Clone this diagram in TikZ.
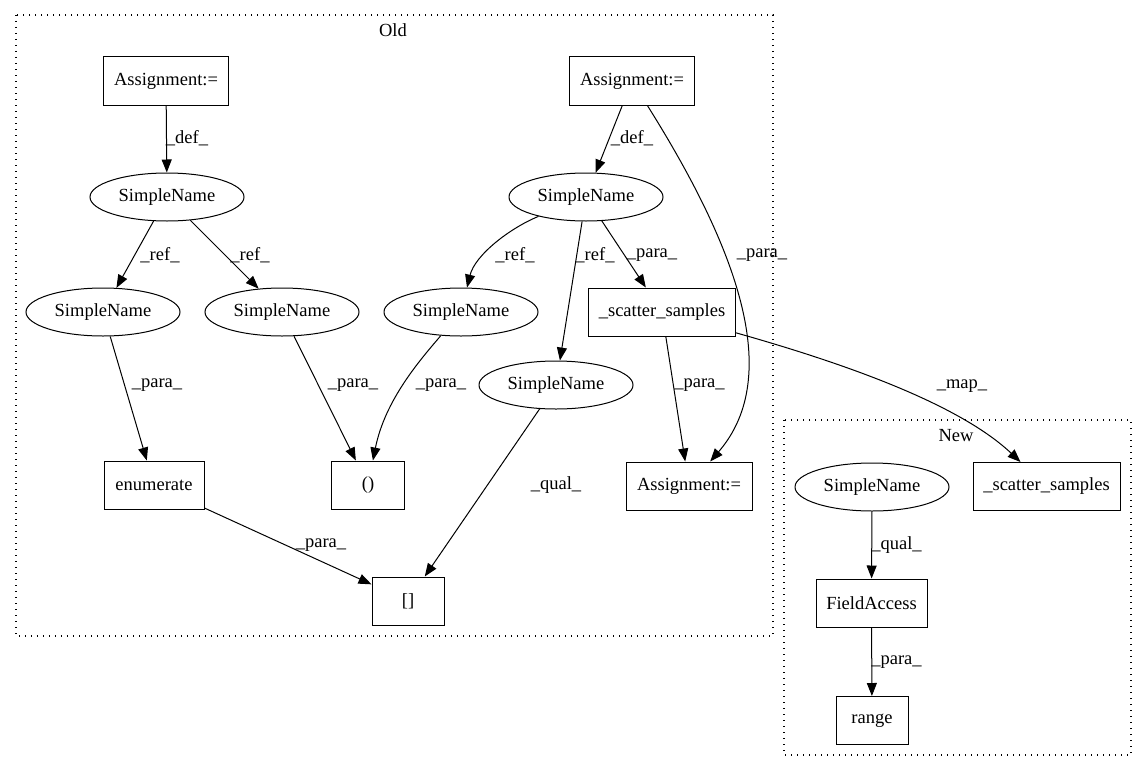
\documentclass[tikz,border=0pt]{standalone}
\usepackage{fontspec}
\setmainfont{Liberation Serif}
\usetikzlibrary{shapes.geometric,arrows.meta}
\begin{document}
\begin{tikzpicture}[x=1pt,y=-1pt,
  every node/.style={font=\fontsize{18.5}{22}\selectfont},
  box/.style={draw, rectangle, line width=1pt, minimum height=48pt, inner sep=0pt},
  ell/.style={draw, ellipse, line width=1pt, minimum width=154pt, minimum height=48pt, inner sep=0pt},
  edge/.style={draw, line width=1pt, -{Triangle[length=13pt,width=10pt]}},
  lab/.style={inner sep=0pt},
  cluster/.style={draw, line width=1.2pt, dash pattern=on 1.4pt off 4.6pt}]
\useasboundingbox (0,0) rectangle (1147,768);

% clusters
\draw[cluster] (16,15) rectangle (773,636);
\node[lab] (oldlab) at (393,30) {Old};
\draw[cluster] (784,420) rectangle (1131,755);
\node[lab] (newlab) at (956,436) {New};

% Old nodes
\node[box, minimum width=125pt] (A1) at (166,81) {Assignment:=};
\node[box, minimum width=125pt] (A2) at (632,81) {Assignment:=};
\node[ell] (S1) at (167,197) {SimpleName};
\node[ell] (S2) at (586,197) {SimpleName};
\node[ell] (S3) at (103,312) {SimpleName};
\node[ell] (S4) at (282,312) {SimpleName};
\node[ell] (S5) at (461,312) {SimpleName};
\node[box, minimum width=147pt] (SC) at (662,312) {\_scatter\_samples};
\node[ell] (S6) at (556,385) {SimpleName};
\node[box, minimum width=100pt] (EN) at (154,485) {enumerate};
\node[box, minimum width=73pt] (PA) at (368,485) {()};
\node[box, minimum width=126pt] (A3) at (689,486) {Assignment:=};
\node[box, minimum width=72pt] (BR) at (408,601) {[]};

% New nodes
\node[ell] (S7) at (872,487) {SimpleName};
\node[box, minimum width=147pt] (SC2) at (1046.5,486.5) {\_scatter\_samples};
\node[box, minimum width=111pt] (FA) at (871.5,603) {FieldAccess};
\node[box, minimum width=72pt] (RG) at (872,720.5) {range};

% edges
\draw[edge] (A1) -- (S1);
\draw[edge] (A2) -- (S2);
\draw[edge] (S1) -- (S3);
\draw[edge] (S1) -- (S4);
\draw[edge] (S2) .. controls (510,228) and (475,255) .. (S5);
\draw[edge] (S2) -- (S6);
\draw[edge] (S2) -- (SC);
\draw[edge] (A2) .. controls (735,245) and (785,375) .. (A3);
\draw[edge] (S3) -- (EN);
\draw[edge] (S4) -- (PA);
\draw[edge] (S5) .. controls (420,360) and (385,400) .. (PA);
\draw[edge] (SC) -- (A3);
\draw[edge] (S6) -- (BR);
\draw[edge] (EN) -- (BR);
\draw[edge] (SC) .. controls (850,365) and (960,405) .. (SC2);
\draw[edge] (S7) -- (FA);
\draw[edge] (FA) -- (RG);

% edge labels
\node[lab] (l1) at (187,138) {\_def\_};
\node[lab] (l2) at (632,138) {\_def\_};
\node[lab] (l3) at (160,255) {\_ref\_};
\node[lab] (l4) at (250,255) {\_ref\_};
\node[lab] (l5) at (515,255) {\_ref\_};
\node[lab] (l6) at (595,255) {\_ref\_};
\node[lab] (l7) at (652,255) {\_para\_};
\node[lab] (l8) at (762,255) {\_para\_};
\node[lab] (l9) at (157,385) {\_para\_};
\node[lab] (l10) at (353,385) {\_para\_};
\node[lab] (l11) at (441,385) {\_para\_};
\node[lab] (l12) at (699.5,385) {\_para\_};
\node[lab] (l13) at (556,485) {\_qual\_};
\node[lab] (l14) at (321,545) {\_para\_};
\node[lab] (l15) at (962,386) {\_map\_};
\node[lab] (l16) at (896.5,545) {\_qual\_};
\node[lab] (l17) at (896.5,662) {\_para\_};
\end{tikzpicture}
\end{document}
